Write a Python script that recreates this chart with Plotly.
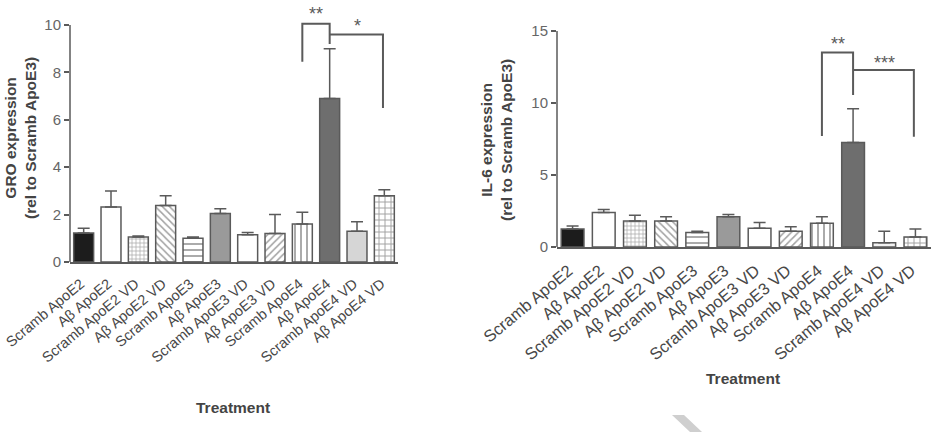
import plotly.graph_objects as go

categories = ["Scramb ApoE2", "Aβ ApoE2", "Scramb ApoE2 VD", "Aβ ApoE2 VD",
              "Scramb ApoE3", "Aβ ApoE3", "Scramb ApoE3 VD", "Aβ ApoE3 VD",
              "Scramb ApoE4", "Aβ ApoE4", "Scramb ApoE4 VD", "Aβ ApoE4 VD"]

gro_mean = [1.22, 2.32, 1.05, 2.38, 1.0, 2.05, 1.15, 1.2, 1.6, 6.9, 1.3, 2.8]
gro_err = [0.2, 0.68, 0.05, 0.42, 0.05, 0.2, 0.1, 0.8, 0.5, 2.1, 0.4, 0.25]

il6_mean = [1.25, 2.4, 1.8, 1.8, 1.0, 2.1, 1.3, 1.1, 1.65, 7.25, 0.3, 0.7]
il6_err = [0.2, 0.2, 0.4, 0.3, 0.1, 0.15, 0.4, 0.3, 0.45, 2.35, 0.8, 0.55]

fills_left = ["#1c1c1c", "#ffffff", "#ffffff", "#ffffff", "#ffffff", "#9a9a9a",
              "#ffffff", "#ffffff", "#ffffff", "#6e6e6e", "#d6d6d6", "#ffffff"]
fills_right = ["#1c1c1c", "#ffffff", "#ffffff", "#ffffff", "#ffffff", "#9a9a9a",
               "#ffffff", "#ffffff", "#ffffff", "#6e6e6e", "#f2f2f2", "#ffffff"]
patterns = ["", "", "+", "\\", "-", "", "", "/", "|", "", "", "+"]
pat_sizes = [6, 6, 4, 5, 6, 6, 6, 5, 6, 6, 6, 6]

FONT = "Liberation Sans, Arial, sans-serif"
GRAY = "#5a5a5a"

fig = go.Figure()

def add_bars(mean, err, fills, xa, ya):
    fig.add_trace(go.Bar(
        x=categories, y=mean, xaxis=xa, yaxis=ya,
        marker=dict(color=fills, line=dict(color=GRAY, width=1.5),
                    pattern=dict(shape=patterns, fgcolor="#6a6a6a", size=pat_sizes,
                                 solidity=0.3)),
        error_y=dict(type="data", symmetric=False, array=err,
                     arrayminus=[0] * len(err), color=GRAY, thickness=1.5, width=6),
        showlegend=False, cliponaxis=False))

add_bars(gro_mean, gro_err, fills_left, "x", "y")
add_bars(il6_mean, il6_err, fills_right, "x2", "y2")

H, W = 432, 932
common_x = dict(type="category", showline=True, linecolor=GRAY, linewidth=1.5,
                ticks="", tickangle=-40, automargin=False,
                ticklabelstandoff=6, range=[-0.5, 11.5])
common_y = dict(showline=False, showgrid=False, zeroline=False, ticks="outside",
                ticklen=5, tickwidth=1.5, tickcolor=GRAY, automargin=False)

fig.update_layout(
    width=W, height=H, margin=dict(l=0, r=0, t=0, b=0),
    plot_bgcolor="white", paper_bgcolor="white", bargap=0.27,
    xaxis=dict(common_x, domain=[70 / W, 398 / W], anchor="y", ticklabelshift=-3,
               tickfont=dict(family=FONT, color="#484848", size=14.5)),
    yaxis=dict(common_y, domain=[1 - 262 / H, 1 - 1 / H], range=[0, 261 / 23.7],
               tickvals=[0, 2, 4, 6, 8, 10], anchor="x",
               tickfont=dict(family=FONT, color="#666666", size=15)),
    xaxis2=dict(common_x, domain=[557 / W, 931 / W], anchor="y2", ticklabelshift=-4,
                tickfont=dict(family=FONT, color="#484848", size=16.5)),
    yaxis2=dict(common_y, domain=[1 - 247 / H, 1.0], range=[0, 247 / 14.4],
                tickvals=[0, 5, 10, 15], anchor="x2",
                tickfont=dict(family=FONT, color="#666666", size=15)),
)

shapes = []
# y-axis lines ending at the top tick
shapes.append(dict(type="line", xref="x domain", yref="y", x0=0, x1=0, y0=0, y1=10,
                   line=dict(color=GRAY, width=1.5)))
shapes.append(dict(type="line", xref="x2 domain", yref="y2", x0=0, x1=0, y0=0, y1=15,
                   line=dict(color=GRAY, width=1.5)))

def bracket(xa, ya, i0, i1, ytop, yl, yr):
    shapes.append(dict(type="path", xref=xa, yref=ya,
                       path=f"M {i0},{yl} L {i0},{ytop} L {i1},{ytop} L {i1},{yr}",
                       line=dict(color=GRAY, width=2)))

bracket("x", "y", 8, 9, 10.05, 8.45, 9.2)
bracket("x", "y", 9, 10.95, 9.6, 9.6, 6.5)
bracket("x2", "y2", 8, 9, 13.5, 7.7, 10.55)
bracket("x2", "y2", 9, 10.95, 12.3, 12.3, 7.65)

# watermark stroke
shapes.append(dict(type="path", xref="paper", yref="paper",
                   path=f"M {672/W},{1-415/H} L {684/W},{1-415/H} L {702/W},{0} L {690/W},{0} Z",
                   fillcolor="#cfcfcf", line=dict(width=0)))

fig.update_layout(shapes=shapes)

ann = []
def star(xa, ya, x, y, txt):
    ann.append(dict(xref=xa, yref=ya, x=x, y=y, text=txt, showarrow=False,
                    xanchor="center", yanchor="middle",
                    font=dict(family=FONT, size=18, color=GRAY)))

star("x", "y", 8.5, 10.45, "**")
star("x", "y", 10.0, 9.95, "*")
star("x2", "y2", 8.5, 14.1, "**")
star("x2", "y2", 10.0, 12.8, "***")

def label(x, y, txt, size, angle=0):
    ann.append(dict(xref="paper", yref="paper", x=x / W, y=1 - y / H, textangle=angle,
                    text=txt, showarrow=False, xanchor="center", yanchor="middle",
                    font=dict(family=FONT, size=size, color="#444444")))

label(20, 138, "<b>GRO expression<br>(rel to Scramb ApoE3)</b>", 15.5, -90)
label(496, 140, "<b>IL-6 expression<br>(rel to Scramb ApoE3)</b>", 15.5, -90)
label(233, 407, "<b>Treatment</b>", 15.5)
label(743, 378, "<b>Treatment</b>", 15.5)

fig.update_layout(annotations=ann)

fig.write_html("out.html")
